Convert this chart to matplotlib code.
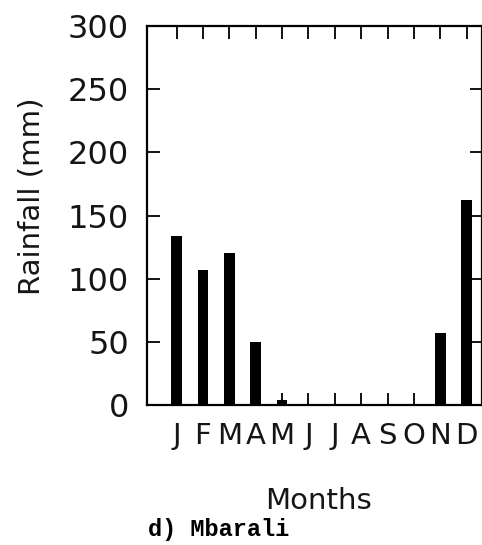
import matplotlib
matplotlib.use("Agg")
import matplotlib.pyplot as plt
import numpy as np

# Monthly rainfall, Mbarali (mm)
months = ["J", "F", "M", "A", "M", "J", "J", "A", "S", "O", "N", "D"]
rainfall = [134, 107, 120, 50, 4, 0, 0, 0, 0, 1, 57, 162]
y_ticks = [0, 50, 100, 150, 200, 250, 300]

fig = plt.figure(figsize=(4.82, 5.45), dpi=100)
ax = fig.add_axes([0.305, 0.257, 0.695, 0.695])

x = np.arange(len(months))
ax.bar(x, rainfall, width=0.4, color="black")

ax.set_xlim(-1.12, 11.58)
ax.set_ylim(0, 300)
ax.set_yticks(y_ticks)
ax.set_yticklabels([str(v) for v in y_ticks], fontsize=23, color="#151515")
ax.set_xticks(x)
ax.set_xticklabels(months, fontsize=21, color="#151515")

ax.tick_params(axis="both", direction="in", length=9, width=1.3,
               top=True, right=True)
ax.tick_params(axis="y", pad=13)
ax.tick_params(axis="x", pad=12)
for s in ax.spines.values():
    s.set_linewidth(1.6)

# axis titles placed by hand
fig.text(0.066, 0.640, "Rainfall (mm)", fontsize=21, color="#151515",
         rotation=90, ha="center", va="center")
fig.text(0.66, 0.081, "Months", fontsize=21, color="#151515",
         ha="center", va="center")
fig.text(0.307, 0.028, "d) Mbarali", fontsize=17, fontweight="bold",
         family="Liberation Mono", ha="left", va="center")

fig.savefig("out.png", dpi=100)
